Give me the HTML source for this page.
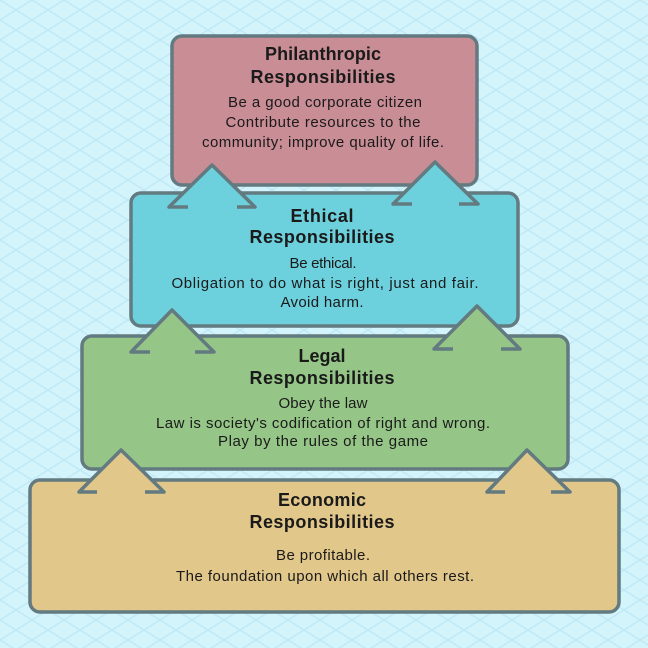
<!DOCTYPE html>
<html><head><meta charset="utf-8"><style>
html,body{margin:0;padding:0;width:648px;height:648px;overflow:hidden;background:#d4f4fc}
svg{display:block}
text{font-family:"Liberation Sans",sans-serif;fill:#1a1a1a;text-anchor:middle}
.t{font-size:18px;font-weight:bold}
.b{font-size:15px}
</style></head><body>
<svg width="648" height="648" viewBox="0 0 648 648" xmlns="http://www.w3.org/2000/svg">
<defs>
<pattern id="p" width="32" height="20" patternUnits="userSpaceOnUse">
<path d="M0 0 L32 20 M32 0 L0 20" stroke="#bde8f5" stroke-width="1.3" fill="none"/>
</pattern>
</defs>
<rect width="648" height="648" fill="#d4f4fc"/>
<rect width="648" height="648" fill="url(#p)"/>
<g stroke="#627a80" stroke-width="3.5" stroke-linejoin="round">
<rect x="172" y="36" width="305" height="149" rx="10" fill="#c98d95"/>
<rect x="131" y="193" width="387" height="133" rx="10" fill="#6dd0dd"/>
<polyline points="188,207 169,207 212,165 255,207 237,207" fill="#6dd0dd"/>
<polyline points="412,204 393,204 435,162 478,204 459,204" fill="#6dd0dd"/>
<rect x="82" y="336" width="486" height="133" rx="10" fill="#95c687"/>
<polyline points="150,352 131,352 172,310 214,352 195,352" fill="#95c687"/>
<polyline points="453,349 434,349 477,306 520,349 501,349" fill="#95c687"/>
<rect x="30" y="480" width="589" height="132" rx="10" fill="#e2c78a"/>
<polyline points="97,492 79,492 121,450 164,492 145,492" fill="#e2c78a"/>
<polyline points="505,492 487,492 527,450 570,492 551,492" fill="#e2c78a"/>
</g>
<text class="t" x="323" y="60" textLength="116">Philanthropic</text>
<text class="t" x="323" y="83" textLength="145">Responsibilities</text>
<text class="b" x="325" y="107" textLength="194">Be a good corporate citizen</text>
<text class="b" x="323" y="127" textLength="195">Contribute resources to the</text>
<text class="b" x="323" y="147" textLength="242">community; improve quality of life.</text>
<text class="t" x="322" y="222" textLength="63">Ethical</text>
<text class="t" x="322" y="243" textLength="145">Responsibilities</text>
<text class="b" x="323" y="268" textLength="67">Be ethical.</text>
<text class="b" x="325" y="288" textLength="307">Obligation to do what is right, just and fair.</text>
<text class="b" x="322" y="307" textLength="83">Avoid harm.</text>
<text class="t" x="322" y="362" textLength="47">Legal</text>
<text class="t" x="322" y="384" textLength="145">Responsibilities</text>
<text class="b" x="323" y="408" textLength="89">Obey the law</text>
<text class="b" x="323" y="428" textLength="334">Law is society's codification of right and wrong.</text>
<text class="b" x="323" y="446" textLength="210">Play by the rules of the game</text>
<text class="t" x="322" y="506" textLength="88">Economic</text>
<text class="t" x="322" y="528" textLength="145">Responsibilities</text>
<text class="b" x="323" y="560" textLength="94">Be profitable.</text>
<text class="b" x="325" y="581" textLength="298">The foundation upon which all others rest.</text>
</svg>
</body></html>
